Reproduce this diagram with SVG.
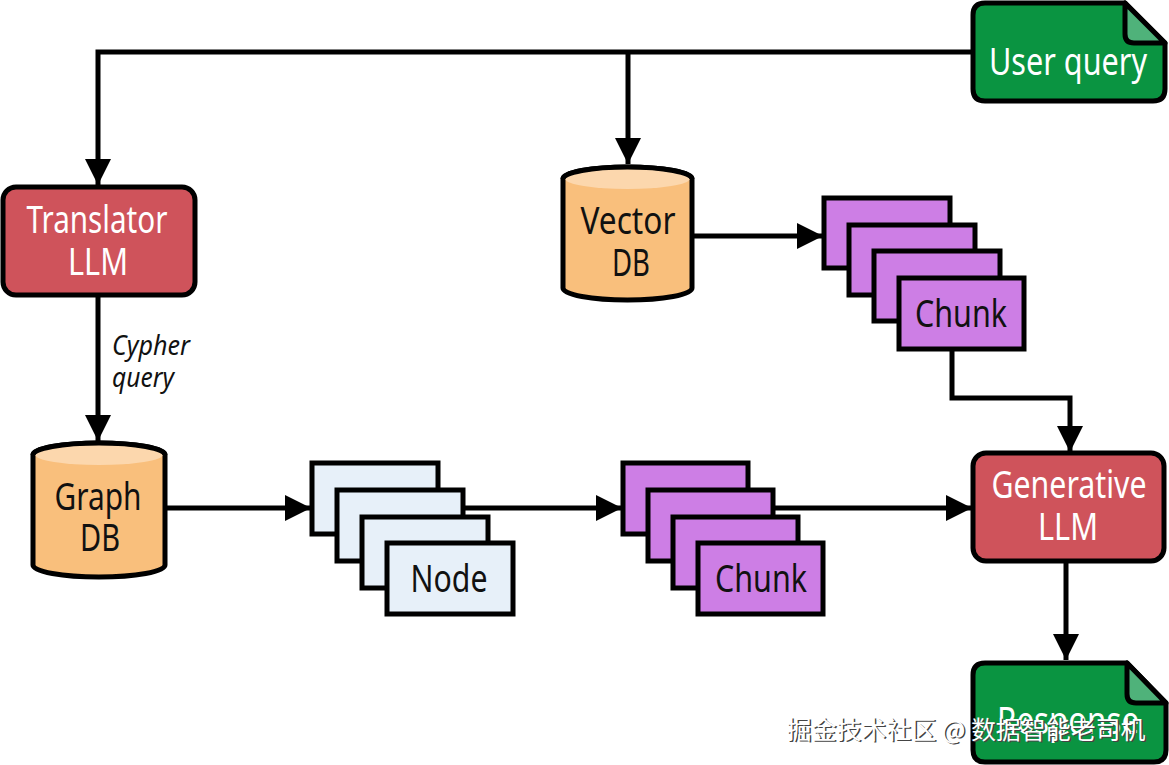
<svg xmlns="http://www.w3.org/2000/svg" width="1169" height="765" viewBox="0 0 1169 765">
<defs>
<marker id="ah" markerUnits="userSpaceOnUse" markerWidth="26" markerHeight="26" viewBox="0 0 26 26" refX="26" refY="13" orient="auto">
<path d="M0,0 L26,13 L0,26 Z" fill="#000"/>
</marker>
</defs>
<style>
.ln{fill:none;stroke:#000;stroke-width:5;marker-end:url(#ah)}
.ln2{fill:none;stroke:#000;stroke-width:5}
.red{fill:#cf535b;stroke:#000;stroke-width:5}
.grn{fill:#0a9441;stroke:#000;stroke-width:5;stroke-linejoin:round}
.fold{fill:#4fb27a;stroke:#000;stroke-width:5;stroke-linejoin:round}
.cyl{fill:#f9bf7c;stroke:#000;stroke-width:5}
.cyltop{fill:#fcd7ad}
.vio{fill:#cd7ee5;stroke:#000;stroke-width:5}
.blu{fill:#e7f0f9;stroke:#000;stroke-width:5}
.t{font-family:"Noto Sans","Open Sans",sans-serif;font-size:38px;text-anchor:middle}
.w{fill:#fff}
.k{fill:#111}
.it{font-family:"Noto Sans","Open Sans",sans-serif;font-size:27px;font-style:italic;fill:#111}
.wm{font-family:"Noto Sans CJK SC","Noto Sans",sans-serif;font-size:25px}
</style>
<g id="connectors">
<path class="ln" d="M973,52 H98 V185"/>
<path class="ln" d="M628,52 V164"/>
<path class="ln" d="M98,296 V441"/>
<path class="ln" d="M692,236 H823"/>
<path class="ln" d="M952,350 V398 H1070 V452"/>
<path class="ln" d="M165,508 H311"/>
<path class="ln2" d="M463,508 H560"/>
<path class="ln" d="M560,508 H622"/>
<path class="ln" d="M773,508 H972"/>
<path class="ln" d="M1066,561 V660"/>
</g>
<g id="user-query">
<path class="grn" d="M985,3 H1125 L1165,43 V89 Q1165,101 1153,101 H985 Q973,101 973,89 V15 Q973,3 985,3 Z"/>
<path class="fold" d="M1125,3 V34 Q1125,43 1134,43 H1165 Z"/>
<text class="t w" x="1068" y="75" textLength="158" lengthAdjust="spacingAndGlyphs">User query</text>
</g>
<g id="translator-llm">
<rect class="red" x="3" y="187" width="192" height="108" rx="13"/>
<text class="t w" x="97" y="233" textLength="141" lengthAdjust="spacingAndGlyphs">Translator</text>
<text class="t w" x="98" y="275" textLength="60" lengthAdjust="spacingAndGlyphs">LLM</text>
</g>
<g id="cypher-label">
<text class="it" x="112" y="355" textLength="78" lengthAdjust="spacingAndGlyphs">Cypher</text>
<text class="it" x="112" y="387" textLength="62" lengthAdjust="spacingAndGlyphs">query</text>
</g>
<g id="vector-db">
<path class="cyl" d="M563,179 V288 A64.5,12 0 0 0 692,288 V179 A64.5,12 0 0 0 563,179 Z"/>
<ellipse class="cyltop" cx="627.5" cy="179" rx="62" ry="10"/>
<path fill="none" stroke="#000" stroke-width="5" d="M563,179 A64.5,12 0 0 1 692,179"/>
<text class="t k" x="628" y="234" textLength="95" lengthAdjust="spacingAndGlyphs">Vector</text>
<text class="t k" x="631" y="276" textLength="38" lengthAdjust="spacingAndGlyphs">DB</text>
</g>
<g id="chunk-stack-1">
<rect class="vio" x="824" y="198" width="126" height="70"/>
<rect class="vio" x="849" y="225" width="126" height="70"/>
<rect class="vio" x="874" y="251" width="126" height="70"/>
<rect class="vio" x="899" y="278" width="125" height="71"/>
<text class="t k" x="961" y="327" textLength="92" lengthAdjust="spacingAndGlyphs">Chunk</text>
</g>
<g id="graph-db">
<path class="cyl" d="M33,455 V565 A66,12 0 0 0 165,565 V455 A66,12 0 0 0 33,455 Z"/>
<ellipse class="cyltop" cx="99" cy="455" rx="63.5" ry="10"/>
<path fill="none" stroke="#000" stroke-width="5" d="M33,455 A66,12 0 0 1 165,455"/>
<text class="t k" x="98" y="510" textLength="87" lengthAdjust="spacingAndGlyphs">Graph</text>
<text class="t k" x="100" y="551" textLength="40" lengthAdjust="spacingAndGlyphs">DB</text>
</g>
<g id="node-stack">
<rect class="blu" x="312" y="463" width="126" height="71"/>
<rect class="blu" x="337" y="490" width="126" height="71"/>
<rect class="blu" x="362" y="517" width="126" height="71"/>
<rect class="blu" x="387" y="543" width="126" height="71"/>
<text class="t k" x="449" y="592" textLength="77" lengthAdjust="spacingAndGlyphs">Node</text>
</g>
<g id="chunk-stack-2">
<rect class="vio" x="623" y="463" width="125" height="71"/>
<rect class="vio" x="648" y="490" width="125" height="71"/>
<rect class="vio" x="673" y="517" width="125" height="71"/>
<rect class="vio" x="698" y="543" width="125" height="71"/>
<text class="t k" x="761" y="592" textLength="92" lengthAdjust="spacingAndGlyphs">Chunk</text>
</g>
<g id="generative-llm">
<rect class="red" x="973" y="453" width="191" height="108" rx="13"/>
<text class="t w" x="1069" y="498" textLength="155" lengthAdjust="spacingAndGlyphs">Generative</text>
<text class="t w" x="1068" y="540" textLength="60" lengthAdjust="spacingAndGlyphs">LLM</text>
</g>
<g id="response">
<path class="grn" d="M985,663 H1127 L1166,703 V750 Q1166,762 1154,762 H985 Q973,762 973,750 V675 Q973,663 985,663 Z"/>
<path class="fold" d="M1127,663 V694 Q1127,703 1136,703 H1166 Z"/>
<text class="t w" x="1068" y="734" textLength="142" lengthAdjust="spacingAndGlyphs">Response</text>
</g>
<g id="watermark">
<text class="wm" x="788" y="740" fill="#444" textLength="359" lengthAdjust="spacingAndGlyphs">掘金技术社区 @ 数据智能老司机</text>
<text class="wm" x="786.5" y="738.5" fill="#fff" textLength="359" lengthAdjust="spacingAndGlyphs">掘金技术社区 @ 数据智能老司机</text>
</g>
</svg>
